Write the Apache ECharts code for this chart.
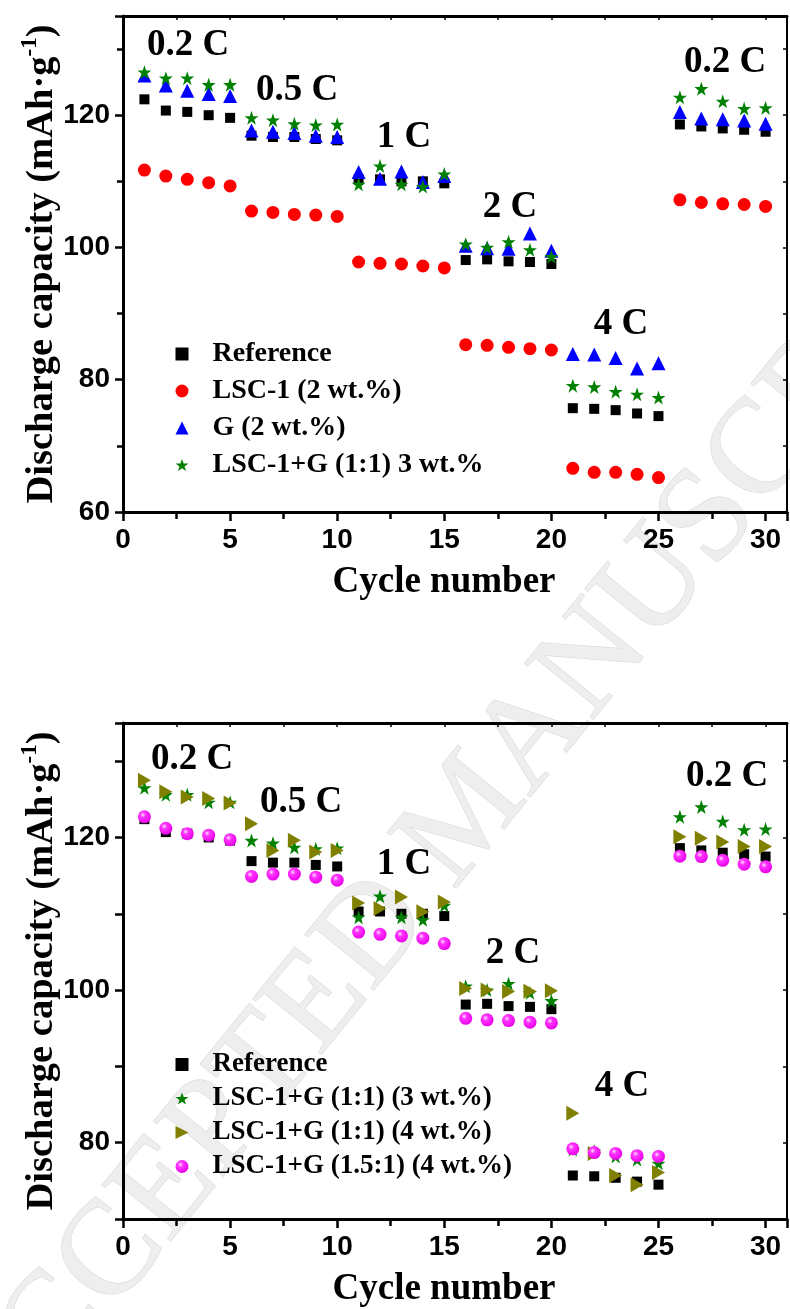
<!DOCTYPE html>
<html>
<head>
<meta charset="utf-8">
<script src="https://cdn.jsdelivr.net/npm/echarts@6/dist/echarts.min.js"></script>
<style>
html,body{margin:0;padding:0;background:#fff;}
#chart{width:790px;height:1309px;}
</style>
</head>
<body>
<div id="chart"></div>
<script>
// ---------- data ----------
const cycles = [1,2,3,4,5,6,7,8,9,10,11,12,13,14,15,16,17,18,19,20,21,22,23,24,25,26,27,28,29,30];

// shared series
const reference = [122.4,120.7,120.5,120.0,119.6, 116.9,116.7,116.7,116.4,116.2, 110.3,110.3,110.0,110.0,109.7, 98.1,98.2,97.9,97.8,97.5, 75.7,75.6,75.4,74.9,74.5, 118.6,118.3,118.0,117.8,117.5];
const lscG11w3 = [126.5,125.6,125.6,124.6,124.6, 119.6,119.25,118.7,118.5,118.6, 109.55,112.3,109.55,109.2,111.1, 100.5,100.0,100.85,99.65,98.6, 79.1,78.9,78.2,77.8,77.3, 122.7,124.0,122.1,121.0,121.1];

// top chart only
const lsc1w2 = [111.7,110.8,110.3,109.8,109.3, 105.5,105.3,105.0,104.9,104.7, 97.8,97.6,97.5,97.2,96.9, 85.3,85.2,84.9,84.7,84.5, 66.6,66.0,66.0,65.7,65.2, 107.2,106.8,106.6,106.5,106.2];
const gw2 = [126.0,124.5,123.7,123.2,122.9, 117.7,117.5,117.3,116.9,116.7, 111.4,110.4,111.5,109.9,110.8, 100.25,99.9,99.8,102.1,99.5, 83.9,83.8,83.3,81.7,82.5, 120.5,119.5,119.4,119.2,118.7];

// bottom chart only
const lscG11w4 = [127.5,126.0,125.3,125.1,124.5, 121.8,118.3,119.65,118.1,118.3, 111.4,110.7,112.2,110.25,111.55, 100.2,100.0,99.8,99.85,99.9, 83.85,78.6,75.7,74.5,76.1, 120.1,119.9,119.4,118.8,118.8];
const lscG151w4 = [122.7,121.2,120.5,120.3,119.7, 114.9,115.2,115.2,114.8,114.4, 107.6,107.3,107.1,106.8,106.1, 96.3,96.1,96.0,95.8,95.7, 79.2,78.7,78.6,78.3,78.2, 117.55,117.5,117.0,116.5,116.15];

const namesTop = ['Reference', 'LSC-1 (2 wt.%)', 'G (2 wt.%)', 'LSC-1+G (1:1) 3 wt.%'];
const namesBottom = ['Reference', 'LSC-1+G (1:1) (3 wt.%)', 'LSC-1+G (1:1) (4 wt.%)', 'LSC-1+G (1.5:1) (4 wt.%)'];
const rateLabels = ['0.2 C', '0.5 C', '1 C', '2 C', '4 C', '0.2 C'];
const xTicks = [0, 5, 10, 15, 20, 25, 30];
const yLabelStep = 20;

// ---------- styling ----------
const SERIF = '"Liberation Serif", "Times New Roman", serif';
const SANS = '"Liberation Sans", Arial, sans-serif';
const STAR = 'path://M50,2 L61.8,36.2 L97.6,36.2 L68.6,57.4 L79.4,91.6 L50,70.4 L20.6,91.6 L31.4,57.4 L2.4,36.2 L38.2,36.2 Z';
const RTRI = 'path://M0,0 L100,50 L0,100 Z';
const sphere = {type:'radial', x:0.38, y:0.35, r:0.7, colorStops:[{offset:0,color:'#ffe0ff'},{offset:0.3,color:'#ff33ff'},{offset:1,color:'#e600e6'}]};

function pairs(arr){ return cycles.map((c,i)=>[c, arr[i]]); }

const grids = [
  {left:123, top:16, width:666.5, height:496},
  {left:123, top:723, width:666.5, height:496}
];

function xAxes(gi){
  const base = {
    type:'value', gridIndex:gi, min:0, max:31, interval:5,
    splitLine:{show:false}, minorSplitLine:{show:false}
  };
  return [
    Object.assign({}, base, {
      position:'bottom',
      axisLine:{show:true, onZero:false, lineStyle:{color:'#000', width:3}},
      axisTick:{show:true, inside:false, length:9, lineStyle:{color:'#000', width:2.5}},
      minorTick:{show:true, splitNumber:2, length:7, lineStyle:{color:'#000', width:2.5}},
      axisLabel:{show:true, margin:14, color:'#000', fontFamily:SANS, fontWeight:'bold', fontSize:28,
        formatter:v => xTicks.indexOf(v) >= 0 ? String(v) : ''},
      name:'Cycle number', nameLocation:'middle', nameGap:52, nameMoveOverlap:false,
      nameTextStyle:{fontFamily:SERIF, fontWeight:'bold', fontSize:37, color:'#000', padding:[0,22,0,0]}
    }),
    Object.assign({}, base, {
      position:'top',
      axisLine:{show:true, onZero:false, lineStyle:{color:'#000', width:3}},
      axisTick:{show:true, inside:true, length:4, lineStyle:{color:'#000', width:1.5}},
      minorTick:{show:true, splitNumber:2, length:4, lineStyle:{color:'#000', width:1.5}},
      axisLabel:{show:false}
    })
  ];
}

function yAxes(gi, min, interval, minor){
  const base = {type:'value', gridIndex:gi, min:min, max:135, interval:interval,
    splitLine:{show:false}, minorSplitLine:{show:false}};
  return [
    Object.assign({}, base, {
      position:'left',
      axisLine:{show:true, onZero:false, lineStyle:{color:'#000', width:3}},
      axisTick:{show:true, inside:false, length:8, lineStyle:{color:'#000', width:2.5}},
      minorTick:{show:minor, splitNumber:2, length:6, lineStyle:{color:'#000', width:2.5}},
      axisLabel:{show:true, margin:13, color:'#000', fontFamily:SANS, fontWeight:'bold', fontSize:28,
        formatter:v => (v % yLabelStep === 0 && v < 135) ? String(v) : ''},
      name:'Discharge capacity (mAh·g{sup|-1})', nameLocation:'middle', nameGap:58, nameMoveOverlap:false,
      nameTextStyle:{fontFamily:SERIF, fontWeight:'bold', fontSize:38.5, color:'#000', lineHeight:46,
        rich:{sup:{fontFamily:SERIF, fontWeight:'bold', fontSize:23, color:'#000', verticalAlign:'top', lineHeight:22}}}
    }),
    Object.assign({}, base, {
      position:'right',
      axisLine:{show:true, onZero:false, lineStyle:{color:'#000', width:2}},
      axisTick:{show:true, inside:true, length:4, lineStyle:{color:'#000', width:1.5}},
      minorTick:{show:minor, splitNumber:2, length:4, lineStyle:{color:'#000', width:1.5}},
      axisLabel:{show:false}
    })
  ];
}

function sc(name, data, xi, yi, symbol, size, color, z){
  return {type:'scatter', name:name, data:pairs(data), xAxisIndex:xi, yAxisIndex:yi,
    symbol:symbol, symbolSize:size, itemStyle:{color:color, opacity:1}, z:z, silent:true, animation:false};
}

const series = [
  sc(namesTop[0], reference, 0, 0, 'rect', 10, '#000000', 2),
  sc(namesTop[1], lsc1w2, 0, 0, 'circle', 13, '#ff0000', 3),
  sc(namesTop[2], gw2, 0, 0, 'triangle', 14, '#0000ff', 4),
  sc(namesTop[3], lscG11w3, 0, 0, STAR, 14, '#008000', 5),
  sc(namesBottom[0], reference, 2, 2, 'rect', 10, '#000000', 2),
  sc(namesBottom[1], lscG11w3, 2, 2, STAR, 14, '#008000', 3),
  sc(namesBottom[2], lscG11w4, 2, 2, RTRI, [13,15], '#808000', 4),
  sc(namesBottom[3], lscG151w4, 2, 2, 'circle', 13, sphere, 5)
];

const rateTop = [[188,45],[297,90],[404,137],[510,207],[621,324],[725,62]];
const rateBot = [[192,759],[301,802],[404,864],[513,953],[622,1086],[727,776]];
function rateText(pos, i){
  return {type:'text', x:pos[0], y:pos[1], z:100, silent:true,
    style:{text:rateLabels[i], font:'bold 37px ' + SERIF, fill:'#000', textAlign:'center', textVerticalAlign:'middle'}};
}

const graphics = [
  {type:'text', x:470, y:815, rotation:51*Math.PI/180, z:-1, silent:true,
   style:{text:'ACCEPTED MANUSCRIPT', font:'135px ' + SERIF, fill:'#eeeeee', stroke:'#d9d9d9', lineWidth:1.2,
     textAlign:'center', textVerticalAlign:'middle'}}
].concat(rateTop.map(rateText), rateBot.map(rateText));

function legend(names, top, size, gap){
  return {show:true, orient:'vertical', left:170.5, top:top, itemWidth:13, itemHeight:13, itemGap:gap,
    selectedMode:false, data:names,
    textStyle:{fontFamily:SERIF, fontWeight:'bold', fontSize:size, color:'#000', padding:[0,0,0,19]}};
}

const chart = echarts.init(document.getElementById('chart'), null, {renderer:'canvas'});
chart.setOption({
  backgroundColor:'#ffffff',
  animation:false,
  grid:grids,
  xAxis:[].concat(xAxes(0), xAxes(1)),
  yAxis:[].concat(yAxes(0, 60, 20, true), yAxes(1, 70, 10, false)),
  legend:[legend(namesTop, 335, 28, 9), legend(namesBottom, 1046, 27, 7)],
  graphic:{elements:graphics},
  series:series
});
</script>
</body>
</html>
